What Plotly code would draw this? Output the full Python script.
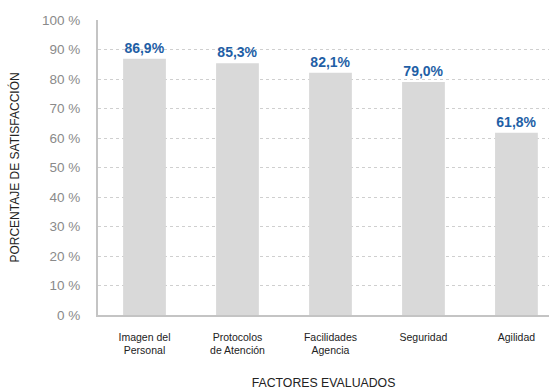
import plotly.graph_objects as go

categories = ["Imagen del<br>Personal", "Protocolos<br>de Atención", "Facilidades<br>Agencia", "Seguridad", "Agilidad"]
values = [86.9, 85.3, 82.1, 79.0, 61.8]
labels = ["86,9%", "85,3%", "82,1%", "79,0%", "61,8%"]
tick_vals = [0, 10, 20, 30, 40, 50, 60, 70, 80, 90, 100]
tick_text = ["0 %", "10 %", "20 %", "30 %", "40 %", "50 %", "60 %", "70 %", "80 %", "90 %", "100 %"]

FONT = "Liberation Sans, Arial, Helvetica, sans-serif"

fig = go.Figure(go.Bar(
    x=list(range(len(categories))),
    y=values,
    text=labels,
    textposition="outside",
    cliponaxis=False,
    textfont=dict(family=FONT, size=14, color="#1f5fa6", weight="bold"),
    marker=dict(color="#d9d9d9", line=dict(width=0)),
))

fig.update_layout(
    width=550, height=390,
    margin=dict(l=98, r=1, t=20, b=68),
    paper_bgcolor="white", plot_bgcolor="white",
    showlegend=False,
    bargap=0.54,
    font=dict(family=FONT),
    xaxis=dict(
        range=[-0.5, 4.35],
        tickmode="array",
        tickvals=list(range(len(categories))),
        ticktext=categories,
        tickfont=dict(family=FONT, size=10.5, color="#222222"),
        showgrid=False,
        showline=True, linecolor="#c4c4c4", linewidth=2,
        ticks="outside", ticklen=11, tickcolor="rgba(0,0,0,0)",
        title=dict(text="FACTORES EVALUADOS", font=dict(family=FONT, size=12.3, color="#222222"), standoff=24),
        zeroline=False,
    ),
    yaxis=dict(
        range=[0, 100],
        tickmode="array",
        tickvals=tick_vals,
        ticktext=tick_text,
        tickfont=dict(family=FONT, size=13.5, color="#8a8a8a"),
        showgrid=True, gridcolor="#cfcfcf", griddash="dot", gridwidth=1,
        showline=True, linecolor="#c4c4c4", linewidth=2,
        ticks="outside", ticklen=13, tickcolor="rgba(0,0,0,0)",
        zeroline=False,
        title=dict(text="PORCENTAJE DE SATISFACCIÓN", font=dict(family=FONT, size=12, color="#222222"), standoff=20),
    ),
)

fig.write_html("out.html")
